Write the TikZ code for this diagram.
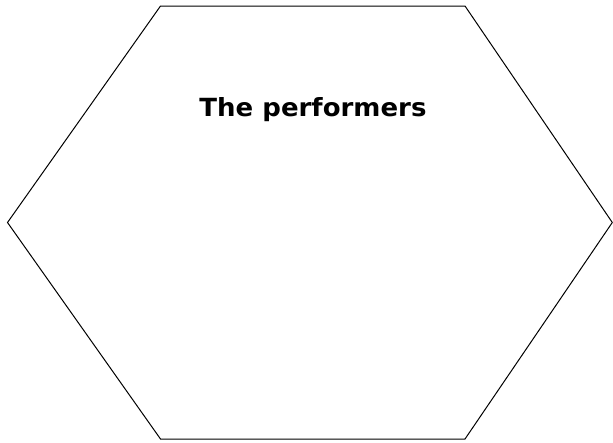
\documentclass[tikz,border=0pt]{standalone}
\usepackage{fontspec}
\setmainfont{DejaVu Sans}
\usepackage{tikz}

\begin{document}
\begin{tikzpicture}[x=1pt,y=-1pt]
\useasboundingbox (0,0) rectangle (613,442);
\draw[black, line width=1pt, line join=miter]
  (160.5,6) -- (465,6) -- (612.3,222.5) -- (465,439) -- (160.5,439) -- (7.5,222.5) -- cycle;
\node[font=\fontsize{25}{30}\selectfont\bfseries, anchor=base, xscale=1.04] (title) at (313,116) {The performers};
\end{tikzpicture}
\end{document}
